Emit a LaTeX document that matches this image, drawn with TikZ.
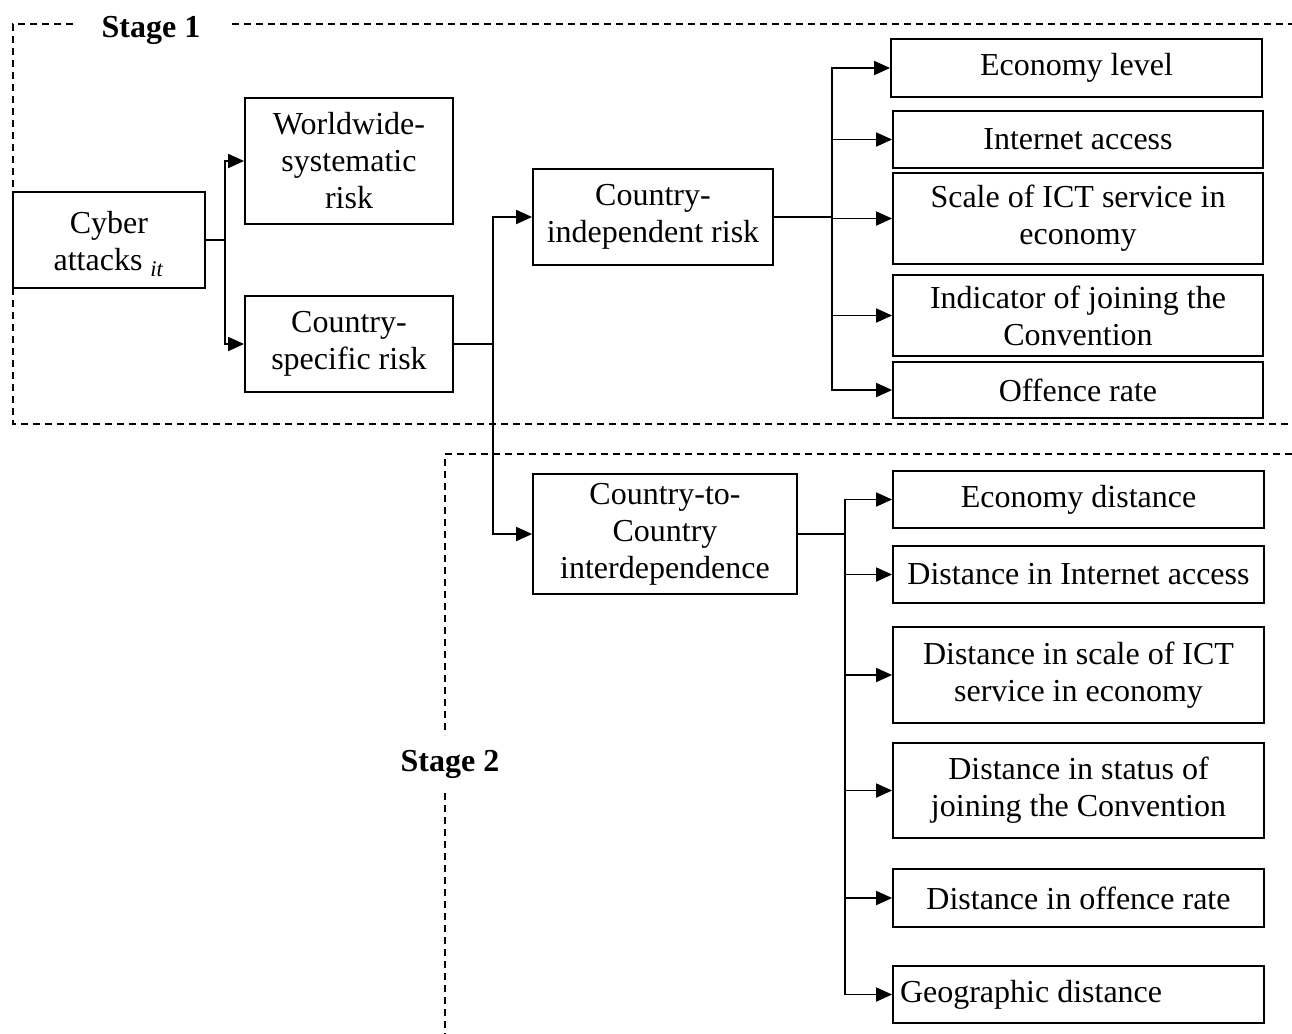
\documentclass[tikz,border=0pt]{standalone}
\usepackage{fontspec}
\setmainfont{Liberation Serif}
\usetikzlibrary{arrows.meta}
\begin{document}
\begin{tikzpicture}[x=0.5pt,y=-0.5pt,
  box/.style={draw, line width=0.9pt, inner sep=1pt, align=center,
    font=\fontsize{16}{18.5}\selectfont},
  conn/.style={line width=0.9pt},
  arr/.style={line width=0.9pt, -{Triangle[length=8pt,width=7pt]}},
  frame/.style={line width=0.85pt, dash pattern=on 3.4pt off 2.6pt},
  stagelabel/.style={font=\fontsize{16}{18.5}\selectfont\bfseries, inner sep=0pt}]
\useasboundingbox (0,0) rectangle (1292,1034);

% stage frames
\draw[frame] (73,24) -- (13,24) -- (13,424) -- (1292,424);
\draw[frame] (232,24) -- (1292,24);
\node[stagelabel] (s1) at (151,30) {Stage 1};
\draw[frame] (1292,454) -- (445,454) -- (445,735);
\draw[frame] (445,793) -- (445,1034);
\node[stagelabel] (s2) at (450,764) {Stage 2};

% boxes
\node[box, minimum width=96pt, minimum height=48pt] (cyber) at (109,240)
  {\raisebox{-2.5pt}[\height][\depth]{\begin{tabular}{@{}c@{}}Cyber\\attacks \textsubscript{\textit{it}}\end{tabular}}};
\node[box, minimum width=104pt, minimum height=63pt] (world) at (349,161) {Worldwide-\\systematic\\risk};
\node[box, minimum width=104pt, minimum height=48pt] (cspec) at (349,344) {Country-\\specific risk};
\node[box, minimum width=120pt, minimum height=48pt] (cind) at (653,217) {Country-\\independent risk};
\node[box, minimum width=132pt, minimum height=60pt] (ctc) at (665,534) {Country-to-\\Country\\interdependence};

\node[box, minimum width=185.5pt, minimum height=29pt] (econ) at (1076.5,68) {Economy level};
\node[box, minimum width=185pt, minimum height=28.5pt] (inet) at (1078,139.5) {Internet access};
\node[box, minimum width=185pt, minimum height=45.5pt] (ict) at (1078,218.5) {Scale of ICT service in\\economy};
\node[box, minimum width=185pt, minimum height=40.5pt] (ind) at (1078,315.5) {Indicator of joining the\\Convention};
\node[box, minimum width=185pt, minimum height=28pt] (off) at (1078,390) {Offence rate};

\node[box, minimum width=185.5pt, minimum height=28.5pt] (edist) at (1078.5,499.5) {Economy distance};
\node[box, minimum width=185.5pt, minimum height=28.5pt] (dinet) at (1078.5,574.5) {Distance in Internet access};
\node[box, minimum width=185.5pt, minimum height=48pt] (dict) at (1078.5,675) {Distance in scale of ICT\\service in economy};
\node[box, minimum width=185.5pt, minimum height=47.5pt] (dstat) at (1078.5,790.5) {Distance in status of\\joining the Convention};
\node[box, minimum width=185.5pt, minimum height=29pt] (doff) at (1078.5,898) {Distance in offence rate};
\node[box, minimum width=185.5pt, minimum height=28.5pt] (geo) at (1078.5,994.5)
  {\makebox[178.5pt][l]{Geographic distance}};

% junctions
\coordinate (j1) at (225,240);
\coordinate (j2) at (493,344);
\coordinate (j3) at (832,217);
\coordinate (j4) at (845,534);

\draw[conn] (cyber.east) -- (j1);
\draw[arr] (j1) |- (world.west);
\draw[arr] (j1) |- (cspec.west);

\draw[conn] (cspec.east) -- (j2);
\draw[arr] (j2) |- (cind.west);
\draw[arr] (j2) |- (ctc.west);

\draw[conn] (cind.east) -- (j3);
\foreach \n in {econ,inet,ict,ind,off} \draw[arr] (j3) |- (\n.west);

\draw[conn] (ctc.east) -- (j4);
\foreach \n in {edist,dinet,dict,dstat,doff,geo} \draw[arr] (j4) |- (\n.west);
\end{tikzpicture}
\end{document}
